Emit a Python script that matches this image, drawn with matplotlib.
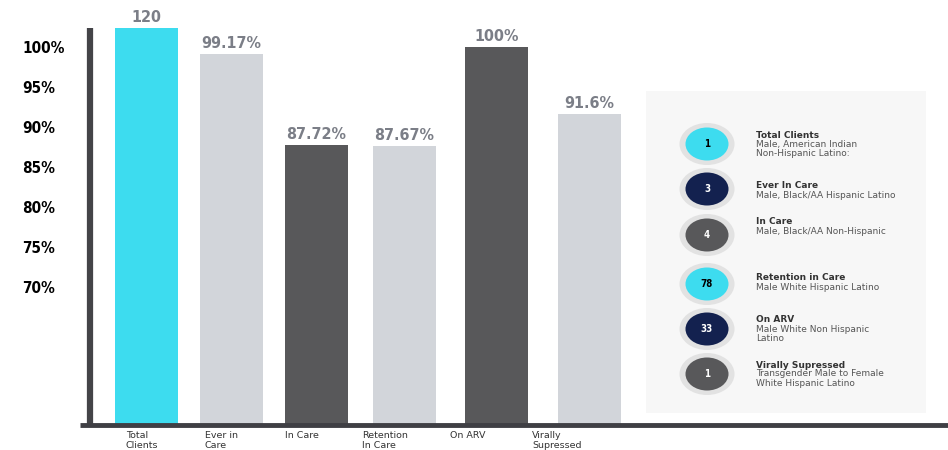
import matplotlib
matplotlib.use("Agg")
import matplotlib.pyplot as plt
from matplotlib.patches import Ellipse, Rectangle
import numpy as np

# data
categories = ["Total\nClients", "Ever in\nCare", "In Care", "Retention\nIn Care", "On ARV", "Virally\nSupressed"]
bar_heights = [102.4, 99.17, 87.72, 87.67, 100.0, 91.6]
bar_labels = ["120", "99.17%", "87.72%", "87.67%", "100%", "91.6%"]
bar_colors = ["#3ddcef", "#d2d5da", "#58585a", "#d2d5da", "#58585a", "#d2d5da"]
ytick_vals = [100, 95, 90, 85, 80, 75, 70]
ytick_labels = ["100%", "95%", "90%", "85%", "80%", "75%", "70%"]

legend_counts = ["1", "3", "4", "78", "33", "1"]
legend_titles = ["Total Clients", "Ever In Care", "In Care", "Retention in Care", "On ARV", "Virally Supressed"]
legend_desc = ["Male, American Indian\nNon-Hispanic Latino:",
               "Male, Black/AA Hispanic Latino",
               "Male, Black/AA Non-Hispanic",
               "Male White Hispanic Latino",
               "Male White Non Hispanic\nLatino",
               "Transgender Male to Female\nWhite Hispanic Latino"]
legend_colors = ["#3ddcef", "#13214f", "#58585a", "#3ddcef", "#13214f", "#58585a"]
legend_txtcol = ["black", "white", "white", "black", "white", "white"]

W, H = 948, 450
fig = plt.figure(figsize=(W / 100, H / 100), dpi=100)
cond = dict(family="DejaVu Sans", fontstretch="condensed", fontweight="heavy")

# bar axes in pixel-like x units, y in percent (8 px per %)
ax = fig.add_axes([90 / W, 25 / H, 858 / W, 425 / H])
ax.set_facecolor("none")
bar_x = [146.5, 231, 316, 404, 496.5, 589]
ax.bar(bar_x, bar_heights, width=63, color=bar_colors, zorder=2)
ax.set_xlim(90, W)
ax.set_ylim(100 - 378 / 8, 100 + 47 / 8)
for xx, h, lab in zip(bar_x, bar_heights, bar_labels):
    ax.text(xx, h + 0.35, lab, ha="center", va="bottom", fontsize=11.5,
            color="#7b7e87", **cond)
ax.set_yticks(ytick_vals)
ax.set_yticklabels(ytick_labels, fontsize=11, color="black", **cond)
ax.tick_params(axis="y", length=0, pad=68 * 0.72)
for t in ax.get_yticklabels():
    t.set_horizontalalignment("left")
ax.set_xticks([])
for s in ax.spines.values():
    s.set_visible(False)

# overlay in pixel coords
ov = fig.add_axes([0, 0, 1, 1])
ov.set_xlim(0, W)
ov.set_ylim(H, 0)
ov.axis("off")
ov.set_facecolor("none")

ov.plot([90.5, 90.5], [28, 425], color="#444448", lw=4.5, solid_capstyle="butt")
ov.plot([80, W], [425, 425], color="#3f3f44", lw=3.5, solid_capstyle="butt")

label_x = [126, 205, 285, 362, 450, 532]
for lx, cat in zip(label_x, categories):
    ov.text(lx, 431, cat, ha="left", va="top", fontsize=6.8,
            color="#333333", linespacing=1.1)

ov.add_patch(Rectangle((646, 91), 280, 322, facecolor="#f7f7f7", edgecolor="none"))
row_y = [144, 189, 235, 284, 329, 374]
title_y = [135, 186, 222, 278, 320, 365]
for i in range(len(legend_counts)):
    cy = row_y[i]
    ov.add_patch(Ellipse((707, cy), 55, 42, facecolor="#e2e2e2", edgecolor="none"))
    ov.add_patch(Ellipse((707, cy), 43, 33, facecolor=legend_colors[i], edgecolor="none"))
    ov.text(707, cy, legend_counts[i], ha="center", va="center", fontsize=7,
            color=legend_txtcol[i], **cond)
    ov.text(756, title_y[i], legend_titles[i], ha="left", va="center", fontsize=6.5,
            fontweight="bold", color="#333333")
    ov.text(756, title_y[i] + 4.5, legend_desc[i], ha="left", va="top", fontsize=6.5,
            color="#555555", linespacing=1.1)

fig.savefig("out.png", dpi=100)
